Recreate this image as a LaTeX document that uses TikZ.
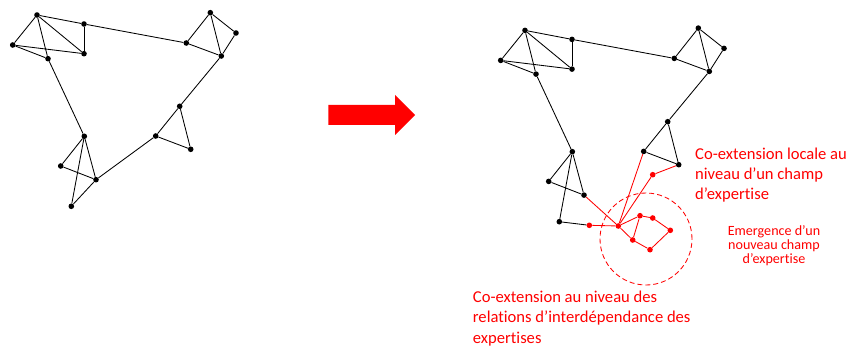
\documentclass[tikz,border=0pt]{standalone}
\usepackage{fontspec}
\setmainfont[Ligatures={NoCommon}]{Carlito}
\begin{document}
\begin{tikzpicture}[x=1pt,y=-1pt,
  dot/.style={circle,fill=black,inner sep=0pt,minimum size=5.6pt},
  rdot/.style={dot,fill=red},
  edge/.style={line width=0.85pt,black},
  redge/.style={line width=0.85pt,red},
  lbl/.style={text=red,inner sep=0pt,align=left}]
\useasboundingbox (0,0) rectangle (850,347);
% left graph and its copy on the right
\foreach \n/\x/\y in {A/37/15,B/84/24,C/12.7/45,D/48/58.7,E/84/53.7,F/210.3/12.7,G/236/33,H/186.3/43,I/221.3/56,J/179.7/106.3,K/155.7/136,L/190.7/149.3,M/84.3/136.3,N/60.7/166,O/96/179.7,P/71.3/206.3}
  {\node[dot] (l\n) at (\x,\y) {};
   \node[dot] (r\n) at (\x+488,\y+15.4) {};}
\foreach \a/\b in {A/B,A/C,A/D,A/E,B/E,C/D,C/E,D/M,B/H,H/F,H/I,F/I,F/G,G/I,I/J,J/K,J/L,K/L,K/O,M/N,M/O,M/P,N/O,O/P}
  \draw[edge] (l\a) -- (l\b);
\foreach \a/\b in {A/B,A/C,A/D,A/E,B/E,C/D,C/E,D/M,B/H,H/F,H/I,F/I,F/G,G/I,I/J,J/K,J/L,K/L,M/N,M/O,M/P,N/O}
  \draw[edge] (r\a) -- (r\b);
% red additions
\foreach \n/\x/\y in {R1/589.3/225.3,Hub/618.3/226,R2/652.7/174.7,R3/640/215.7,R4/652.7/218,R5/670.3/230.3,R6/632.7/240,R7/650/249.7}
  \node[rdot] (\n) at (\x,\y) {};
\draw[edge] (rP) -- (R1);
\foreach \a/\b in {R1/Hub,rO/Hub,rK/Hub,Hub/R2,R2/rL,Hub/R3,R3/R4,R4/R5,R5/R7,R7/R6,R6/Hub,R3/R6}
  \draw[redge] (\a) -- (\b);
\draw[red,line width=0.85pt,dash pattern=on 5pt off 3pt] (646,239) circle (46pt);
% big arrow
\fill[red] (328.3,105) -- (395,105) -- (395,95) -- (415,115) -- (395,135) -- (395,125) -- (328.3,125) -- cycle;
% labels
\node[lbl,anchor=base west,font=\fontsize{16.6}{20.1}\selectfont] (t1) at (695,199.4)
  {Co-extension locale au\\niveau d’un champ\\d’expertise};
\node[lbl,anchor=base,align=center,font=\fontsize{14.1}{14}\selectfont] (t2) at (774,263)
  {Emergence d’un\\nouveau champ\\d’expertise};
\node[lbl,anchor=base west,font=\fontsize{16.6}{20.3}\selectfont] (t3) at (472.7,343)
  {Co-extension au niveau des\\relations d’interdépendance des\\expertises};
\end{tikzpicture}
\end{document}
